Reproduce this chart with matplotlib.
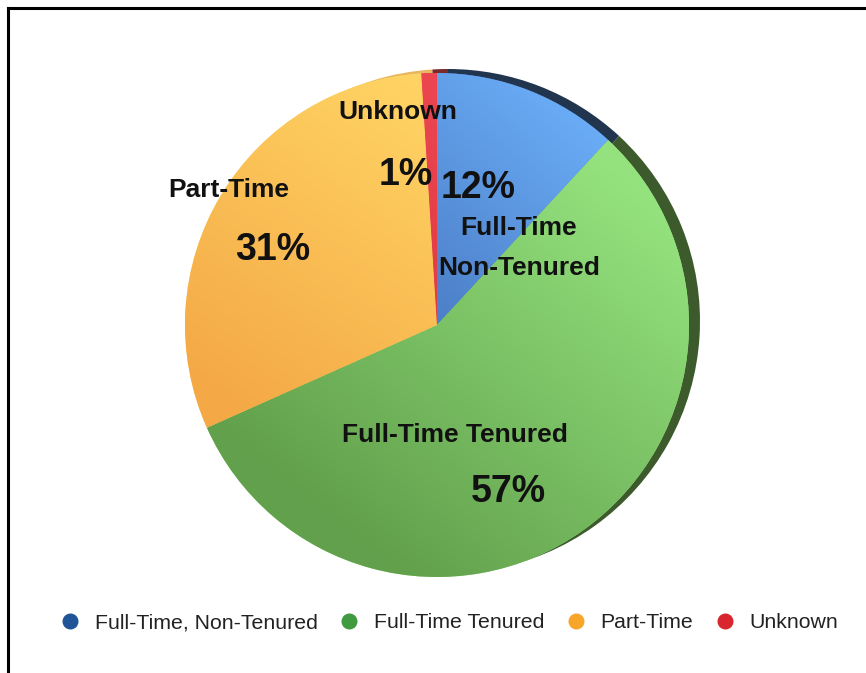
import numpy as np
import matplotlib
matplotlib.use("Agg")
import matplotlib.pyplot as plt
from matplotlib.colors import to_rgb
from matplotlib.lines import Line2D

# ---------------- data ----------------
categories = ["Full-Time, Non-Tenured", "Full-Time Tenured", "Part-Time", "Unknown"]
values = [12, 57, 31, 1]
slice_names = [["Full-Time", "Non-Tenured"], ["Full-Time Tenured"], ["Part-Time"], ["Unknown"]]

# ---------------- style ----------------
W, H = 866, 673
legend_colors = ["#1f5597", "#3f9a40", "#f7a62a", "#d9262e"]
rim_colors = ["#22354f", "#3d5a2d", "#e8b860", "#7a2a2a"]
grad = [  # (color at p1, color at p2, p1 px, p2 px)
    ("#4a7cc4", "#6aacf6", (420, 330), (600, 130)),
    ("#94e27e", "#62a04c", (610, 170), (330, 520)),
    ("#ffd363", "#f4a846", (410, 90), (200, 390)),
    ("#ec4650", "#e03a44", (400, 80), (410, 340)),
]
cx, cy, R = 437, 325, 252  # pixel centre / radius

def Y(y):
    return H - y

fig = plt.figure(figsize=(W / 100, H / 100), dpi=100)
ax = fig.add_axes([0, 0, 1, 1])

font = "Liberation Sans"

# rim (3D side) behind
ax.pie(values, colors=rim_colors, center=(cx + 11, Y(cy) + 4), radius=R,
       startangle=90, counterclock=False, wedgeprops=dict(linewidth=0))
# main pie
wedges, _ = ax.pie(values, colors=[g[0] for g in grad], center=(cx, Y(cy)), radius=R,
                   startangle=90, counterclock=False, wedgeprops=dict(linewidth=0))

# gradient fills clipped to each wedge
N = 300
xs = np.linspace(cx - R - 5, cx + R + 5, N)
ys = np.linspace(Y(cy) - R - 5, Y(cy) + R + 5, N)
X, Yg = np.meshgrid(xs, ys)
for w, (c1, c2, p1, p2) in zip(wedges, grad):
    p1d = np.array([p1[0], Y(p1[1])], float)
    p2d = np.array([p2[0], Y(p2[1])], float)
    d = p2d - p1d
    t = ((X - p1d[0]) * d[0] + (Yg - p1d[1]) * d[1]) / (d @ d)
    t = np.clip(t, 0, 1)[..., None]
    img = np.array(to_rgb(c1)) * (1 - t) + np.array(to_rgb(c2)) * t
    im = ax.imshow(img, extent=(xs[0], xs[-1], ys[0], ys[-1]), origin="lower",
                   interpolation="bilinear", zorder=w.get_zorder() + 0.1, aspect="auto")
    im.set_clip_path(w)

ax.set_xlim(0, W)
ax.set_ylim(0, H)
ax.set_aspect("auto")
ax.axis("off")

# ---------------- labels ----------------
name_pos = [[(519, 228), (519, 268)], [(455, 435)], [(229, 190)], [(398, 112)]]
pct_pos = [(478, 188), (508, 492), (273, 250), (406, 175)]
for names, npos, v, ppos in zip(slice_names, name_pos, values, pct_pos):
    for s, (x, y) in zip(names, npos):
        ax.text(x, Y(y), s, ha="center", va="center", fontsize=19,
                fontweight="bold", family=font, color="#111111", zorder=10)
    ax.text(ppos[0], Y(ppos[1]), f"{v}%", ha="center", va="center", fontsize=27,
            fontweight="bold", family=font, color="#111111", zorder=10)

# ---------------- legend ----------------
handles = [Line2D([], [], marker="o", linestyle="none", markersize=10.5,
                  markerfacecolor=c, markeredgecolor=c) for c in legend_colors]
leg = fig.legend(handles, categories, loc="center", bbox_to_anchor=(449 / W, 1 - 623 / H),
                 ncol=4, frameon=False, handletextpad=0.65, columnspacing=1.0,
                 handlelength=1.0, prop=dict(family=font, size=15.3))
for t in leg.get_texts():
    t.set_color("#222222")

# ---------------- frame ----------------
fig.add_artist(Line2D([8 / W, 1], [1 - 8 / H, 1 - 8 / H], transform=fig.transFigure,
                      color="black", linewidth=2.2))
fig.add_artist(Line2D([8 / W, 8 / W], [0, 1 - 8 / H], transform=fig.transFigure,
                      color="black", linewidth=2.2))

fig.savefig("out.png", dpi=100, facecolor="white")
